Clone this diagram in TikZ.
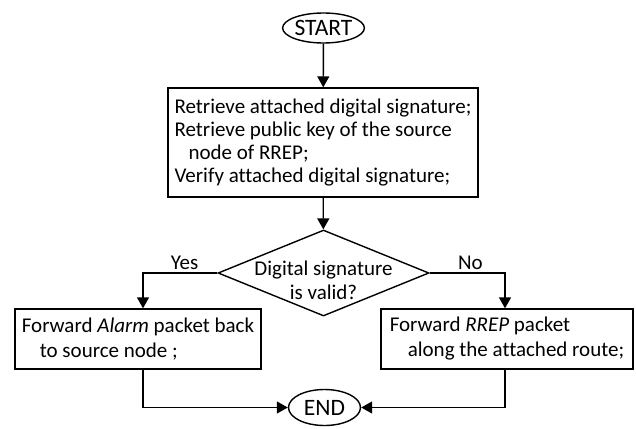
\documentclass[tikz,border=0pt]{standalone}
\usepackage{fontspec}
\setmainfont{Carlito}[Ligatures=NoCommon]
\usepackage{tikz}
\usetikzlibrary{shapes,arrows,arrows.meta,positioning,fit}

\begin{document}
\begin{tikzpicture}[x=1pt, y=-1pt]
			\tikzstyle{Terminal}	= [ellipse, draw, line width=1.4pt, inner sep=0pt, font=\fontsize{23.5}{25}\selectfont]
			\tikzstyle{Process}		= [rectangle, draw, line width=1.4pt, inner sep=0pt, align=left, font=\fontsize{21}{23}\selectfont]
			\tikzstyle{Decision}	= [diamond, draw, line width=1.4pt, inner sep=0pt, minimum width=211pt, minimum height=86pt]
			\tikzstyle{Txt}		= [inner sep=0pt, align=center, font=\fontsize{21}{24}\selectfont]
			\tikzstyle{Flow}		= [line width=1.4pt, -{Triangle[length=11pt, width=12pt]}]
			
			\useasboundingbox (0,0) rectangle (636,428);
			
			\node (start) at (323.5,28) [Terminal, minimum width=71pt, minimum height=30pt] {START};
			\node (verify) at (323,142.5) [Process, minimum width=310pt, minimum height=109pt] {Retrieve attached digital signature;\\ Retrieve public key of the source\\ \hspace*{14pt}node of RREP;\\ Verify attached digital signature;};
			\node (valid) at (323.5,273) [Decision] {};
			\node (validtxt) at (323.5,280) [Txt] {Digital signature\\ is valid?};
			\node (alarm) at (138,339) [Process, minimum width=246pt, minimum height=60pt, font=\fontsize{21}{25}\selectfont] {Forward \textit{Alarm} packet back\\ \hspace*{18pt}to source node ;};
			\node (rrep) at (507,339) [Process, minimum width=252pt, minimum height=60pt, font=\fontsize{21}{25}\selectfont] {Forward \textit{RREP} packet\\ \hspace*{18pt}along the attached route;};
			\node (end) at (324.5,407.5) [Terminal, minimum width=72pt, minimum height=36pt] {END};
			
			\draw (start) to (verify) [Flow];
			\draw (verify) to (valid) [Flow];
			\draw (valid.west) -| ([xshift=5pt]alarm.north) [Flow] node [pos=0.22, above, Txt, yshift=3pt] {Yes};
			\draw (valid.east) -| ([xshift=-2pt]rrep.north) [Flow] node [pos=0.27, above, Txt, yshift=3pt] {No};
			\draw ([xshift=5pt]alarm.south) |- (end.west) [Flow];
			\draw ([xshift=-2pt]rrep.south) |- (end.east) [Flow];
		\end{tikzpicture}
\end{document}
